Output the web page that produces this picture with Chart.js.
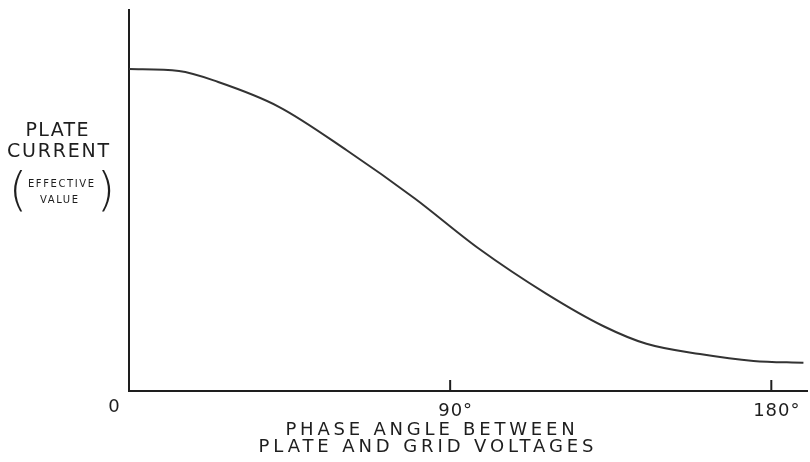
<!DOCTYPE html>
<html>
<head>
<meta charset="utf-8">
<script src="https://cdn.jsdelivr.net/npm/chart.js@4/dist/chart.umd.min.js"></script>
<style>
  html, body { margin: 0; padding: 0; background: #fff; }
  #wrap { width: 810px; height: 462px; position: relative; }
</style>
</head>
<body>
<div id="wrap"><canvas id="c" width="810" height="462"></canvas></div>
<script>
// phase angle (degrees) vs plate current (effective value, arbitrary units 0..100)
const phaseDeg = [0, 14, 25, 42, 61, 80, 98, 117, 133, 145, 160, 175, 189];
const plateCurrent = [84.5, 84.0, 81.1, 74.6, 63.2, 50.6, 37.4, 25.5, 17.0, 12.4, 9.7, 7.9, 7.4];
const tickValues = [90, 180];
const tickLabels = ["90", "180"];   // degree sign added when drawn
const INK = "#1e1e1e";

// letterspaced text helper (canvas letterSpacing; trailing space compensated)
function txt(ctx, s, x, y, size, ls, align) {
  ctx.save();
  ctx.font = size + "px 'DejaVu Sans', sans-serif";
  ctx.letterSpacing = ls + "px";
  ctx.fillStyle = INK;
  ctx.textBaseline = "alphabetic";
  const w = ctx.measureText(s).width - ls;
  let x0 = x;
  if (align === "center") x0 = x - w / 2;
  else if (align === "right") x0 = x - w;
  ctx.textAlign = "left";
  ctx.fillText(s, x0, y);
  ctx.restore();
  return w;
}

const lettering = {
  id: "lettering",
  afterDraw(chart) {
    const { ctx, chartArea, scales } = chart;
    const x = scales.x, base = chartArea.bottom;

    // tick marks pointing up into the plot, labels below
    ctx.save();
    ctx.strokeStyle = INK; ctx.lineWidth = 2;
    tickValues.forEach((v, i) => {
      const px = x.getPixelForValue(v);
      ctx.beginPath(); ctx.moveTo(px, base); ctx.lineTo(px, base - 11); ctx.stroke();
      const w = txt(ctx, tickLabels[i], px, base + 25, 18, 1, "center");
      txt(ctx, "°", px + w / 2 + 1, base + 25, 18, 0, "left");
    });
    ctx.restore();
    txt(ctx, "0", x.getPixelForValue(0) - 15, base + 21, 18, 0, "center");

    // x-axis caption
    txt(ctx, "PHASE ANGLE BETWEEN", 430, 435, 18, 3.8, "center");
    txt(ctx, "PLATE AND GRID VOLTAGES", 426, 452, 18, 3.9, "center");

    // y-axis caption
    txt(ctx, "PLATE", 57, 136, 19, 1.4, "center");
    txt(ctx, "CURRENT", 58, 157, 19, 1.8, "center");
    txt(ctx, "EFFECTIVE", 61, 187, 10, 1.6, "center");
    txt(ctx, "VALUE", 59, 203, 10, 1.6, "center");
    ctx.save();
    ctx.font = "200 46px 'DejaVu Sans', sans-serif";
    ctx.fillStyle = INK;
    ctx.textAlign = "center";
    ctx.fillText("(", 18, 205);
    ctx.fillText(")", 106, 205);
    ctx.restore();
  },
};

new Chart(document.getElementById("c"), {
  type: "line",
  data: {
    datasets: [{
      data: phaseDeg.map((d, i) => ({ x: d, y: plateCurrent[i] })),
      borderColor: "#333",
      borderWidth: 2,
      pointRadius: 0,
      cubicInterpolationMode: "monotone",
      fill: false,
    }],
  },
  options: {
    responsive: false, animation: false,
    layout: { padding: { left: 129, top: 10, right: 3, bottom: 71 } },
    plugins: { legend: { display: false }, tooltip: { enabled: false } },
    scales: {
      x: {
        type: "linear", min: 0, max: 190,
        grid: { display: false, drawTicks: false },
        border: { display: true, color: INK, width: 2 },
        ticks: { display: false },
      },
      y: {
        min: 0, max: 100,
        grid: { display: false, drawTicks: false },
        border: { display: true, color: INK, width: 2 },
        ticks: { display: false },
      },
    },
  },
  plugins: [lettering],
});
</script>
</body>
</html>
